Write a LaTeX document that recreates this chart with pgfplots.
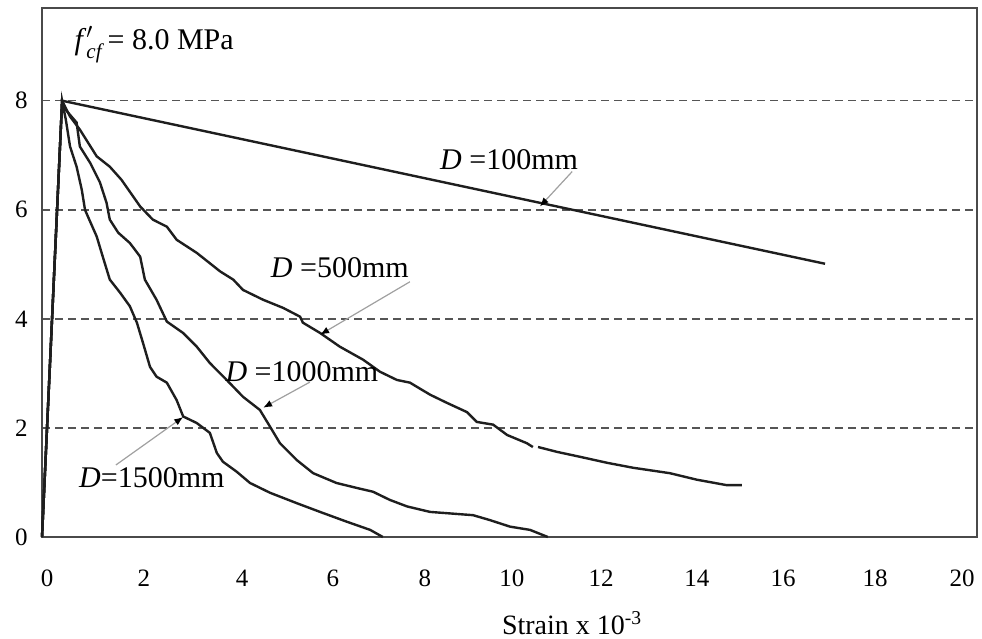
\documentclass[border=0pt]{standalone}
\usepackage{pgfplots}
\pgfplotsset{compat=1.18}
\usepackage{amsmath}
\usepackage{fontspec}
\setmainfont{Liberation Serif}
\usetikzlibrary{arrows.meta}
\definecolor{curve}{HTML}{1E1E1E}
\definecolor{gridc}{HTML}{555555}
\definecolor{framec}{HTML}{4A4A4A}
\definecolor{arrowc}{HTML}{A0A0A0}
\begin{document}
\begin{tikzpicture}
\begin{axis}[name=ax, scale only axis, width=467.5pt, height=264.5pt,
  xmin=0, xmax=20, ymin=0, ymax=9.7,
  xtick={0.11,2.18,4.28,6.22,8.19,10.05,11.96,14.01,15.85,17.82,19.68},
  xticklabels={0,2,4,6,8,10,12,14,16,18,20},
  ytick={0,2,4,6,8},
  major tick length=0pt,
  axis line style={framec, line width=1pt},
  ymajorgrids, grid style={gridc, dash pattern=on 4pt off 2.5pt, line width=0.75pt},
  tick label style={font=\fontsize{12.5}{15}\selectfont},
  /pgf/number format/assume math mode=true,
  xticklabel style={yshift=-13pt},
  yticklabel style={xshift=-3.7pt},
  xlabel={Strain x 10\textsuperscript{-3}},
  xlabel style={font=\fontsize{14}{17}\selectfont, at={(axis description cs:0.567,0)}, anchor=base, yshift=-49pt},
  unbounded coords=jump,
  clip=false]
% D = 100 mm
\addplot[curve, line width=1.2pt] coordinates {(0,0) (0.43,8.0) (16.75,5.01)};
% D = 500 mm
\addplot[curve, line width=1.2pt] coordinates {
(0,0) (0.43,8.0) (0.60,7.71) (0.81,7.47) (1.17,6.98) (1.45,6.79) (1.70,6.55) (2.10,6.06)
(2.37,5.82) (2.67,5.69) (2.88,5.45) (3.31,5.21) (3.81,4.87) (4.09,4.72) (4.30,4.53)
(4.73,4.35) (5.16,4.20) (5.52,4.04) (5.58,3.93) (5.95,3.74) (6.37,3.49) (6.87,3.25)
(7.23,3.03) (7.59,2.88) (7.87,2.83) (8.30,2.61) (8.66,2.46) (9.09,2.29) (9.30,2.11)
(9.65,2.06) (9.95,1.87) (10.37,1.72) (10.50,1.65) (10.55,nan)
(10.61,1.65) (11.02,1.56) (11.51,1.47) (12.09,1.36) (12.64,1.27) (13.43,1.17)
(14.01,1.05) (14.65,0.95) (14.97,0.95)};
% D = 1000 mm
\addplot[curve, line width=1.2pt] coordinates {
(0,0) (0.43,8.0) (0.51,7.83) (0.74,7.60) (0.81,7.16) (1.03,6.86) (1.24,6.50) (1.38,6.13)
(1.45,5.82) (1.63,5.58) (1.88,5.39) (2.10,5.14) (2.20,4.72) (2.45,4.35) (2.67,3.95)
(3.02,3.74) (3.31,3.49) (3.59,3.19) (3.95,2.88) (4.30,2.57) (4.66,2.33) (4.88,2.02)
(5.09,1.72) (5.45,1.41) (5.80,1.17) (6.30,0.99) (6.73,0.90) (7.08,0.83) (7.44,0.68)
(7.81,0.56) (8.30,0.46) (9.22,0.40) (9.58,0.31) (10.01,0.19) (10.44,0.13) (10.82,0)};
% D = 1500 mm
\addplot[curve, line width=1.2pt] coordinates {
(0,0) (0.43,8.0) (0.51,7.65) (0.60,7.16) (0.74,6.79) (0.85,6.37) (0.92,6.00) (0.98,5.88)
(1.17,5.51) (1.30,5.14) (1.45,4.72) (1.67,4.48) (1.88,4.23) (2.03,3.93) (2.16,3.56)
(2.31,3.12) (2.45,2.94) (2.67,2.83) (2.88,2.51) (3.02,2.21) (3.31,2.09) (3.59,1.91)
(3.74,1.54) (3.87,1.38) (4.16,1.20) (4.45,0.99) (4.88,0.81) (5.45,0.62) (6.01,0.44)
(6.52,0.28) (7.02,0.13) (7.29,0)};
% labels
\node[font=\fontsize{15}{18}\selectfont] at (axis cs:2.40,9.03) {\textit{f}$'_{\textit{cf}}$\,= 8.0 MPa};
\node[font=\fontsize{15}{18}\selectfont] at (axis cs:9.99,6.92) {\textit{D} =100mm};
\node[font=\fontsize{15}{18}\selectfont] at (axis cs:6.37,4.94) {\textit{D} =500mm};
\node[font=\fontsize{15}{18}\selectfont] at (axis cs:5.56,3.03) {\textit{D} =1000mm};
\node[font=\fontsize{15}{18}\selectfont] at (axis cs:2.35,1.08) {\textit{D}=1500mm};
% arrows
\draw[arrowc, line width=0.6pt, -{Latex[black,length=4.5pt,width=3.5pt]}] (axis cs:11.34,6.70) -- (axis cs:10.65,6.06);
\draw[arrowc, line width=0.6pt, -{Latex[black,length=4.5pt,width=3.5pt]}] (axis cs:7.87,4.68) -- (axis cs:5.95,3.71);
\draw[arrowc, line width=0.6pt, -{Latex[black,length=4.5pt,width=3.5pt]}] (axis cs:5.73,2.84) -- (axis cs:4.73,2.37);
\draw[arrowc, line width=0.6pt, -{Latex[black,length=4.5pt,width=3.5pt]}] (axis cs:1.58,1.32) -- (axis cs:3.02,2.20);
\end{axis}
\pgfresetboundingbox
\path[use as bounding box] ([xshift=-21pt,yshift=-51pt]ax.south west) rectangle ([xshift=2.5pt,yshift=4pt]ax.north east);
\end{tikzpicture}
\end{document}
